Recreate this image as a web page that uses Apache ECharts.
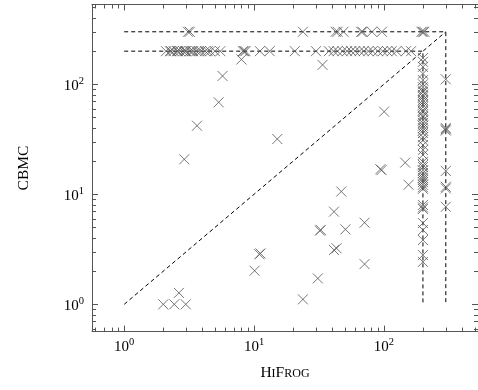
<!DOCTYPE html>
<html>
<head>
<meta charset="utf-8">
<script src="https://cdn.jsdelivr.net/npm/echarts@6/dist/echarts.min.js"></script>
<style>
  html, body { margin: 0; padding: 0; background: #fff; }
  #chart { width: 478px; height: 390px; }
</style>
</head>
<body>
<div id="chart"></div>
<script>
// HiFrog time (x) vs CBMC time (y), one entry per benchmark
const hifrog = [
  // y = 300 row (13)
  3.1, 3.2, 23.8, 42.5, 44, 48.9, 67, 68.5, 81, 96.6, 195, 200, 205,
  // y = 200 row (46)
  2.1, 2.25, 2.4, 2.55, 2.7, 2.85, 3.0, 3.2, 3.4, 3.6,
  3.9, 4.2, 4.6, 5.0, 5.5, 8.2, 8.4, 8.6, 11.1, 13.2,
  20.6, 30, 37.7, 41, 44, 48, 52, 56, 60, 65,
  70, 76, 82, 90, 98, 106, 115, 125, 148, 162,
  2.3, 2.6, 2.95, 3.3, 3.75, 4.4,
  // scattered (30)
  2.9, 3.64, 5.34, 5.72, 8.0, 15.1, 33.7, 100.5, 96, 94,
  146, 155, 47, 41.3, 32.2, 32.6, 50.6, 71, 41.3, 43.2,
  71, 31, 23.8, 11.0, 11.2, 10.1, 2.0, 2.43, 2.98, 2.64,
  // x = 200 column (50)
  200, 200, 200, 200, 200, 200, 200, 200, 200, 200,
  200, 200, 200, 200, 200, 200, 200, 200, 200, 200,
  200, 200, 200, 200, 200, 200, 200, 200, 200, 200,
  200, 200, 200, 200, 200, 200, 200, 200, 200, 200,
  200, 200, 200, 200, 200, 200, 200, 200, 200, 200,
  // x = 300 column (8)
  300, 300, 300, 300, 300, 300, 300, 300
]
const cbmc = [
  300, 300, 300, 300, 300, 300, 300, 300, 300, 300, 300, 300, 300,
  200, 200, 200, 200, 200, 200, 200, 200, 200, 200,
  200, 200, 200, 200, 200, 200, 200, 200, 200, 200,
  200, 200, 200, 200, 200, 200, 200, 200, 200, 200,
  200, 200, 200, 200, 200, 200, 200, 200, 200, 200,
  200, 200, 200, 200, 200, 200,
  20.8, 42, 68.6, 119, 168, 31.8, 150, 56.4, 16.6, 16.9,
  19.4, 12.2, 10.6, 6.95, 4.67, 4.75, 4.8, 5.52, 3.12, 3.23,
  2.32, 1.72, 1.11, 2.85, 2.9, 2.02, 1, 1, 1, 1.27,
  173, 160, 144, 125, 109, 100, 94, 88, 85, 80,
  77, 72, 69, 65, 62, 58, 56, 52, 50.4, 47,
  44.5, 42, 40, 38, 36, 33, 31, 28, 25.3, 22.8,
  19.7, 18.5, 17.7, 16.5, 15.6, 14.8, 14.1, 13.5, 12.9, 12.2,
  11.6, 11.2, 8.0, 7.6, 7.35, 5.48, 4.74, 3.84, 2.8, 2.43,
  111, 40, 39, 38, 16.3, 11.7, 11.3, 7.7
]
const timeouts = [200, 300]
const axisMin = 0.565
const axisMax = 531
const minorTicks = [0.6, 0.7, 0.8, 0.9, 2, 3, 4, 5, 6, 7, 8, 9, 20, 30, 40, 50, 60, 70, 80, 90, 200, 300, 400, 500]

const points = hifrog.map((x, i) => [x, cbmc[i]])

// darker crosses where HiFrog is faster, lighter where CBMC is faster
function crossColor(x, y) {
  let t = (Math.log10(x / y) + 1) / 2.5
  t = Math.max(0, Math.min(1, t))
  const a = 0.8 - t * 0.4
  return 'rgba(0,0,0,' + a.toFixed(2) + ')'
}

const serif = 'Liberation Serif'

function powLabel(v) {
  const e = Math.log10(v)
  if (Math.abs(e - Math.round(e)) > 0.01) return ''
  return '{b|10}{e|' + Math.round(e) + '}'
}

const labelRich = {
  b: { fontFamily: serif, fontSize: 15, color: '#000', verticalAlign: 'bottom', lineHeight: 18 },
  e: { fontFamily: serif, fontSize: 10.5, color: '#000', verticalAlign: 'bottom', lineHeight: 18, padding: [0, 0, 7, 0] }
}

let chart = echarts.init(document.getElementById('chart'))

function baseAxis(extra) {
  return Object.assign({
    type: 'log',
    logBase: 10,
    min: axisMin,
    max: axisMax,
    axisLine: { show: true, lineStyle: { color: '#555', width: 1 } },
    axisTick: { show: true, inside: true, length: 6, lineStyle: { color: '#555', width: 1 } },
    splitLine: { show: false },
    axisLabel: { show: false }
  }, extra)
}

chart.setOption({
  animation: false,
  grid: { left: 92, top: 4.5, right: -7, bottom: 58.4 },
  xAxis: [
    baseAxis({
      position: 'bottom',
      name: '{b|H}{s|I}{b|F}{s|ROG}',
      nameLocation: 'middle',
      nameGap: 31,
      nameTextStyle: {
        rich: {
          b: { fontFamily: serif, fontSize: 15.5, color: '#000', verticalAlign: 'bottom', lineHeight: 18 },
          s: { fontFamily: serif, fontSize: 12, color: '#000', verticalAlign: 'bottom', lineHeight: 18, padding: [0, 0, 1, 0] }
        }
      },
      axisLabel: {
        show: true,
        margin: 5,
        showMinLabel: false,
        showMaxLabel: false,
        formatter: powLabel,
        rich: labelRich
      }
    }),
    baseAxis({ position: 'top' })
  ],
  yAxis: [
    baseAxis({
      position: 'left',
      name: 'CBMC',
      nameLocation: 'middle',
      nameGap: 60,
      nameTextStyle: { fontFamily: serif, fontSize: 15.5, color: '#000' },
      axisLabel: {
        show: true,
        margin: 8,
        showMinLabel: false,
        showMaxLabel: false,
        formatter: powLabel,
        rich: labelRich
      }
    }),
    baseAxis({ position: 'right' })
  ],
  series: [
    {
      // minor ticks on all four sides
      type: 'custom',
      silent: true,
      data: minorTicks.map(v => [v, v]),
      renderItem(params, api) {
        const cs = params.coordSys
        const p = api.coord([api.value(0), api.value(1)])
        const st = { stroke: '#555', lineWidth: 1 }
        const bottom = cs.y + cs.height
        const right = cs.x + cs.width
        const x = Math.round(p[0]) + 0.5
        const y = Math.round(p[1]) + 0.5
        return {
          type: 'group',
          children: [
            { type: 'line', shape: { x1: x, y1: bottom, x2: x, y2: bottom - 4 }, style: st },
            { type: 'line', shape: { x1: x, y1: cs.y, x2: x, y2: cs.y + 4 }, style: st },
            { type: 'line', shape: { x1: cs.x, y1: y, x2: cs.x + 4, y2: y }, style: st },
            { type: 'line', shape: { x1: right, y1: y, x2: right - 4, y2: y }, style: st }
          ]
        }
      },
      clip: false,
      z: 1
    },
    {
      type: 'line',
      data: [[1, 1], [timeouts[1], timeouts[1]]],
      symbol: 'none',
      lineStyle: { color: '#000', width: 1, type: [4, 3] },
      z: 2
    },
    ...timeouts.map(t => ({
      type: 'line',
      data: [[1, t], [t, t], [t, 1]],
      symbol: 'none',
      lineStyle: { color: '#000', width: 1, type: [4, 3] },
      z: 2
    })),
    {
      type: 'scatter',
      data: points,
      symbol: 'path://M0,0L10,10M10,0L0,10',
      symbolSize: 10,
      itemStyle: {
        color: 'none',
        borderWidth: 1,
        borderColor: (p) => crossColor(p.value[0], p.value[1])
      },
      z: 3
    }
  ]
})
</script>
</body>
</html>
